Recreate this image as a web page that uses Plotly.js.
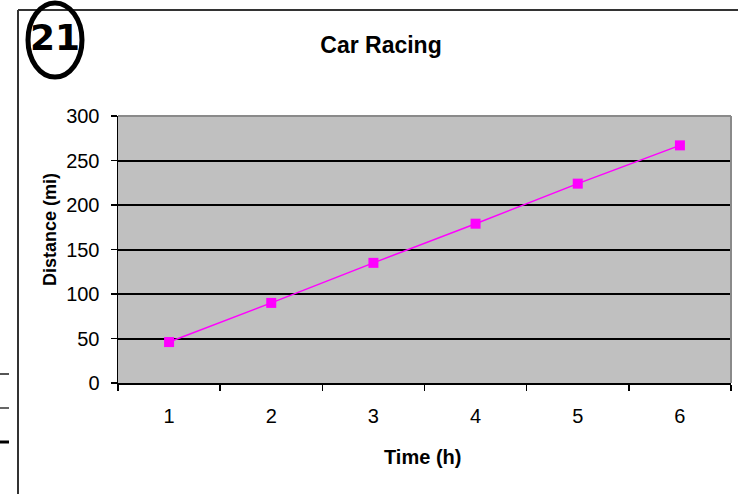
<!DOCTYPE html>
<html>
<head>
<meta charset="utf-8">
<script src="https://cdn.plot.ly/plotly-3.0.1.min.js"></script>
<style>
html,body{margin:0;padding:0;background:#fff;}
#chart{width:738px;height:494px;}
</style>
</head>
<body>
<div id="chart"></div>
<script>
// Data
const timeHours = ['1', '2', '3', '4', '5', '6'];
const distanceMiles = [46, 90, 135, 179, 224, 267];
const yTickValues = [0, 50, 100, 150, 200, 250, 300];
const chartTitle = 'Car Racing';
const xTitle = 'Time (h)';
const yTitle = 'Distance (mi)';

const W = 738, H = 494;
const L = 118, R = 7, T = 116, B = 111;
const pw = W - L - R, ph = H - T - B;
const px = x => (x - L) / pw;
const py = y => (H - B - y) / ph;

const trace = {
  type: 'scatter',
  mode: 'lines+markers',
  x: timeHours,
  y: distanceMiles,
  line: {color: '#FF00FF', width: 1.5},
  marker: {symbol: 'square', size: 10, color: '#FF00FF'},
  hoverinfo: 'x+y'
};

const layout = {
  width: W, height: H,
  margin: {l: L, r: R, t: T, b: B, pad: 0},
  paper_bgcolor: '#ffffff',
  plot_bgcolor: '#C0C0C0',
  showlegend: false,
  font: {family: 'Liberation Sans, Arial, sans-serif', color: '#000'},
  title: {
    text: chartTitle,
    font: {family: 'Liberation Sans, Arial, sans-serif', size: 23, color: '#000', weight: 'bold'},
    x: 381 / W, xanchor: 'center',
    y: 1 - 45 / H, yanchor: 'middle'
  },
  xaxis: {
    type: 'category',
    range: [-0.5, 5.5],
    tickson: 'boundaries',
    ticks: 'outside', ticklen: 6, tickwidth: 1.5, tickcolor: '#000',
    ticklabelstandoff: 14,
    showline: true, linecolor: '#000', linewidth: 1.5,
    showgrid: false, zeroline: false,
    tickfont: {family: 'Liberation Sans Narrow, Arial Narrow, Liberation Sans, sans-serif', size: 20, color: '#000'},
    fixedrange: true
  },
  yaxis: {
    range: [0, 300],
    tickvals: yTickValues,
    ticks: 'outside', ticklen: 6, tickwidth: 1.5, tickcolor: '#000',
    ticklabelstandoff: 7,
    showline: true, linecolor: '#000', linewidth: 1.5,
    showgrid: true, gridcolor: '#000', gridwidth: 2,
    zeroline: false,
    tickfont: {family: 'Liberation Sans Narrow, Arial Narrow, Liberation Sans, sans-serif', size: 20, color: '#000'},
    fixedrange: true
  },
  shapes: [
    {type: 'line', xref: 'paper', yref: 'paper', x0: 0, x1: 1, y0: 1, y1: 1, line: {color: '#8a8a8a', width: 2}, layer: 'above'},
    {type: 'line', xref: 'paper', yref: 'paper', x0: 1, x1: 1, y0: 0, y1: 1, line: {color: '#8a8a8a', width: 2}, layer: 'above'},
    {type: 'line', xref: 'paper', yref: 'paper', x0: px(18), x1: px(18), y0: py(10), y1: py(494), line: {color: '#333', width: 2}},
    {type: 'line', xref: 'paper', yref: 'paper', x0: px(18), x1: px(738), y0: py(10), y1: py(10), line: {color: '#333', width: 2}},
    {type: 'line', xref: 'paper', yref: 'paper', x0: px(0), x1: px(9), y0: py(374), y1: py(374), line: {color: '#555', width: 2}},
    {type: 'line', xref: 'paper', yref: 'paper', x0: px(0), x1: px(9), y0: py(408), y1: py(408), line: {color: '#666', width: 2}},
    {type: 'line', xref: 'paper', yref: 'paper', x0: px(0), x1: px(9), y0: py(442), y1: py(442), line: {color: '#000', width: 3}},
    {type: 'circle', xref: 'paper', yref: 'paper', x0: px(28), x1: px(82), y0: py(77), y1: py(3), line: {color: '#000', width: 5}}
  ],
  annotations: [
    {text: '21', xref: 'paper', yref: 'paper', x: px(55), y: py(38), xanchor: 'center', yanchor: 'middle',
     showarrow: false, font: {family: 'DejaVu Sans, sans-serif', size: 36, color: '#000', weight: 'bold'}},
    {text: xTitle, xref: 'paper', yref: 'paper', x: px(422), y: py(457), xanchor: 'center', yanchor: 'middle',
     showarrow: false, font: {family: 'Liberation Sans, Arial, sans-serif', size: 20, color: '#000', weight: 'bold'}},
    {text: yTitle, xref: 'paper', yref: 'paper', x: px(50), y: py(230), xanchor: 'center', yanchor: 'middle',
     textangle: -90, showarrow: false, font: {family: 'Liberation Sans, Arial, sans-serif', size: 18, color: '#000', weight: 'bold'}}
  ]
};

Plotly.newPlot('chart', [trace], layout, {displayModeBar: false, staticPlot: true});
</script>
</body>
</html>
